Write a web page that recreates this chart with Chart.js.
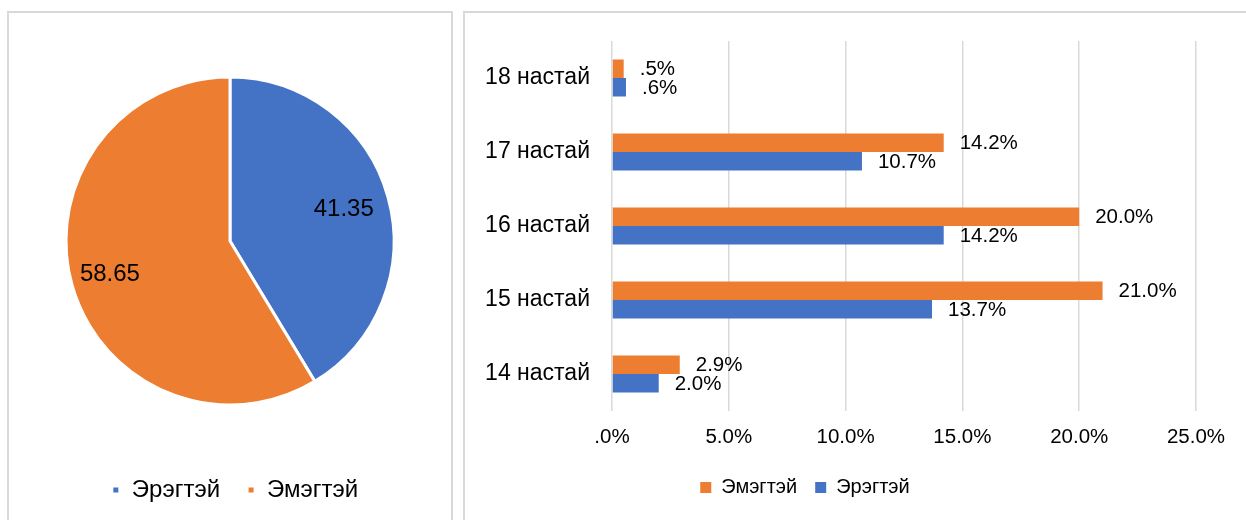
<!DOCTYPE html>
<html>
<head>
<meta charset="utf-8">
<script src="https://cdn.jsdelivr.net/npm/chart.js@4/dist/chart.umd.min.js"></script>
<style>
    body { margin: 0; background: #fff; width: 1246px; height: 520px; overflow: hidden; position: relative; }
    .panel { position: absolute; border: 2px solid #d9d9d9; box-sizing: border-box; background: #fff; }
    canvas { position: absolute; }
</style>
</head>
<body>
<div class="panel" style="left:7px; top:11px; width:446px; height:530px;"></div>
<div class="panel" style="left:463px; top:11px; width:840px; height:530px;"></div>
<canvas id="gender-pie" width="442" height="507" style="left:9px; top:13px;"></canvas>
<canvas id="age-bar" width="781" height="507" style="left:465px; top:13px;"></canvas>
<script>
(function () {
    "use strict";

    // Хүйсийн харьцаа
    const genderLabels = ["Эрэгтэй", "Эмэгтэй"];
    const genderShare = [41.35, 58.65];

    // Насны бүлгээр (%)
    const ageLabels = ["18 настай", "17 настай", "16 настай", "15 настай", "14 настай"];
    const femaleShare = [0.5, 14.2, 20.0, 21.0, 2.9];
    const maleShare = [0.6, 10.7, 14.2, 13.7, 2.0];
    const xTicks = [0, 5, 10, 15, 20, 25];

    const blue = "#4472C4";
    const orange = "#ED7D31";

    Chart.defaults.font.family = "'Liberation Sans', Arial, sans-serif";
    Chart.defaults.color = "#000";
    Chart.defaults.animation = false;

    // Excel шиг ".5%" гэж бичнэ
    const pct = (v) => v.toFixed(1).replace(/^0\./, ".") + "%";

    // legend-ийг хэвтээ чиглэлд бага зэрэг зөөх
    const legendShift = {
        id: "legendShift",
        afterLayout(chart, args, opts) {
            const lg = chart.legend;
            if (lg && opts.dx) {
                lg.left += opts.dx;
                lg.right += opts.dx;
            }
        },
    };

    const pieLabels = {
        id: "pieLabels",
        afterDatasetsDraw(chart) {
            const ctx = chart.ctx;
            const meta = chart.getDatasetMeta(0);
            ctx.save();
            ctx.font = "24px 'Liberation Sans', Arial, sans-serif";
            ctx.fillStyle = "#000";
            ctx.textAlign = "center";
            ctx.textBaseline = "middle";
            meta.data.forEach((arc, i) => {
                const mid = (arc.startAngle + arc.endAngle) / 2;
                const r = arc.outerRadius * (i === 0 ? 0.72 : 0.76);
                ctx.fillText(String(genderShare[i]), arc.x + Math.cos(mid) * r, arc.y + Math.sin(mid) * r);
            });
            ctx.restore();
        },
    };

    const barLabels = {
        id: "barLabels",
        afterDatasetsDraw(chart) {
            const ctx = chart.ctx;
            ctx.save();
            ctx.font = "20.5px 'Liberation Sans', Arial, sans-serif";
            ctx.fillStyle = "#000";
            ctx.textAlign = "left";
            ctx.textBaseline = "middle";
            chart.data.datasets.forEach((ds, di) => {
                chart.getDatasetMeta(di).data.forEach((bar, i) => {
                    ctx.fillText(pct(ds.data[i]), bar.x + 16, bar.y + 1);
                });
            });
            ctx.restore();
        },
    };

    new Chart(document.getElementById("gender-pie").getContext("2d"), {
        type: "pie",
        data: {
            labels: genderLabels,
            datasets: [
                {
                    data: genderShare,
                    backgroundColor: [blue, orange],
                    borderColor: "#fff",
                    borderWidth: 3,
                },
            ],
        },
        options: {
            responsive: false,
            radius: 164,
            layout: { padding: { top: 18, bottom: 8, left: 0, right: 0 } },
            plugins: {
                legend: {
                    position: "bottom",
                    labels: {
                        boxWidth: 8,
                        boxHeight: 8,
                        padding: 27,
                        font: { size: 24 },
                        color: "#000",
                    },
                },
                tooltip: { enabled: false },
                legendShift: { dx: 5 },
            },
        },
        plugins: [legendShift, pieLabels],
    });

    new Chart(document.getElementById("age-bar").getContext("2d"), {
        type: "bar",
        data: {
            labels: ageLabels,
            datasets: [
                {
                    label: "Эмэгтэй",
                    data: femaleShare,
                    backgroundColor: orange,
                    categoryPercentage: 0.5,
                    barPercentage: 1.0,
                },
                {
                    label: "Эрэгтэй",
                    data: maleShare,
                    backgroundColor: blue,
                    categoryPercentage: 0.5,
                    barPercentage: 1.0,
                },
            ],
        },
        options: {
            responsive: false,
            indexAxis: "y",
            layout: { padding: { top: 28, bottom: 12.5, left: 0, right: 50 } },
            scales: {
                x: {
                    min: xTicks[0],
                    max: xTicks[xTicks.length - 1],
                    afterBuildTicks: (scale) => {
                        scale.ticks = xTicks.map((v) => ({ value: v }));
                    },
                    afterFit: (scale) => {
                        scale.height = 48.5;
                    },
                    ticks: {
                        padding: 14,
                        font: { size: 20.5 },
                        color: "#000",
                        callback: (v) => pct(v),
                    },
                    grid: { color: "#d9d9d9", lineWidth: 1.5, drawTicks: false },
                    border: { display: false },
                },
                y: {
                    afterFit: (scale) => {
                        scale.width = 147;
                        scale.paddingTop = 0;
                        scale.paddingBottom = 0;
                    },
                    ticks: {
                        padding: 14,
                        font: { size: 23 },
                        color: "#000",
                    },
                    grid: { display: false },
                    border: { display: false },
                },
            },
            plugins: {
                legend: {
                    position: "bottom",
                    labels: {
                        boxWidth: 11,
                        boxHeight: 11,
                        padding: 18,
                        font: { size: 20 },
                        color: "#000",
                    },
                },
                tooltip: { enabled: false },
                legendShift: { dx: -25.5 },
            },
        },
        plugins: [legendShift, barLabels],
    });
})();
</script>
</body>
</html>
